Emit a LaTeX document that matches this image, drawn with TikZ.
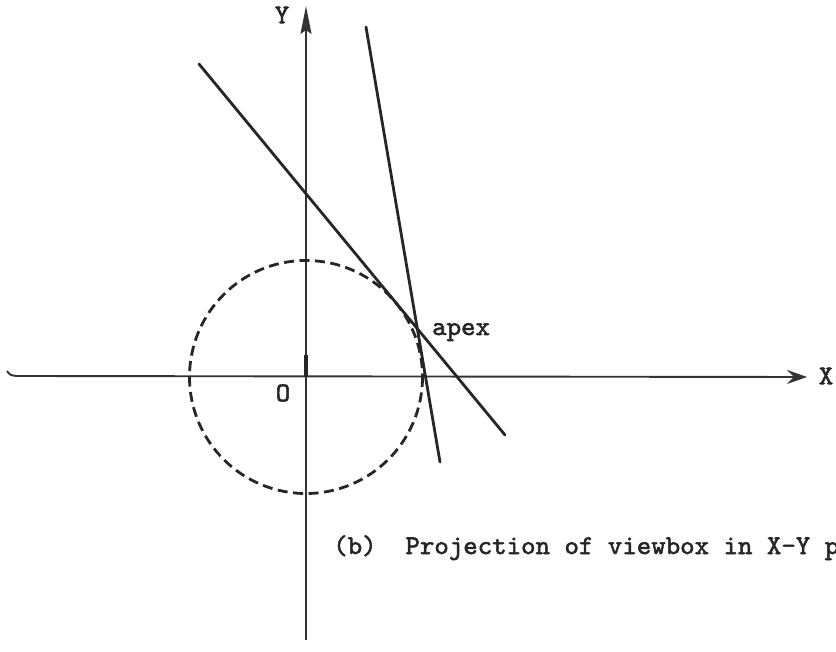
\documentclass[tikz,border=0pt]{standalone}
\usepackage{fontspec}
\setmonofont{lmmono10-regular.otf}[FakeStretch=1.02,FakeBold=2]
\usetikzlibrary{arrows.meta}
\begin{document}
\begin{tikzpicture}[x=1pt,y=-1pt,
  lbl/.style={font=\ttfamily\fontsize{27}{27}\selectfont, text=black!85, inner sep=0pt},
  ax/.style={line width=1.9pt, draw=black!80},
  ray/.style={line width=2.8pt, draw=black!85, line cap=round},
  circ/.style={line width=2.8pt, draw=black!85, dash pattern=on 10pt off 5.5pt},
]
\useasboundingbox (0,0) rectangle (836,652);
\clip (0,0) rectangle (836,652);
\fill[white] (0,0) rectangle (836,652);
% key points
\coordinate (O) at (306,377);
\coordinate (xl) at (7,371);
\coordinate (xh) at (16,376);
\coordinate (xr) at (807,377);
\coordinate (yb) at (306,640);
\coordinate (yt) at (306,6);
\coordinate (tk) at (306,355);
\coordinate (a1) at (366,27);
\coordinate (a2) at (440,462);
\coordinate (b1) at (199,64);
\coordinate (b2) at (505,435);
% axes
\draw[ax, -{Stealth[length=20pt,width=14pt,inset=7pt]}] (xl) .. controls (10,375) .. (xh) -- (xr);
\draw[ax, -{Stealth[length=28pt,width=11pt,inset=4pt]}] (yb) -- (yt);
\draw[line width=3.5pt, draw=black!85] (tk) -- (O);
% dashed circle
\draw[circ] (O) circle[radius=116.5];
% lines
\draw[ray] (a1) -- (a2);
\draw[ray] (b1) -- (b2);
% labels
\node[lbl] (ylab) at (282,15) {Y};
\node[lbl] (xlab) at (826,376) {X};
\node[lbl] (olab) at (283,393) {O};
\node[lbl, anchor=base west] (apex) at (432,335) {apex};
\node[lbl, anchor=base west] (cap) at (333,554) {(b)~~Projection of viewbox in X-Y p};
\end{tikzpicture}
\end{document}
